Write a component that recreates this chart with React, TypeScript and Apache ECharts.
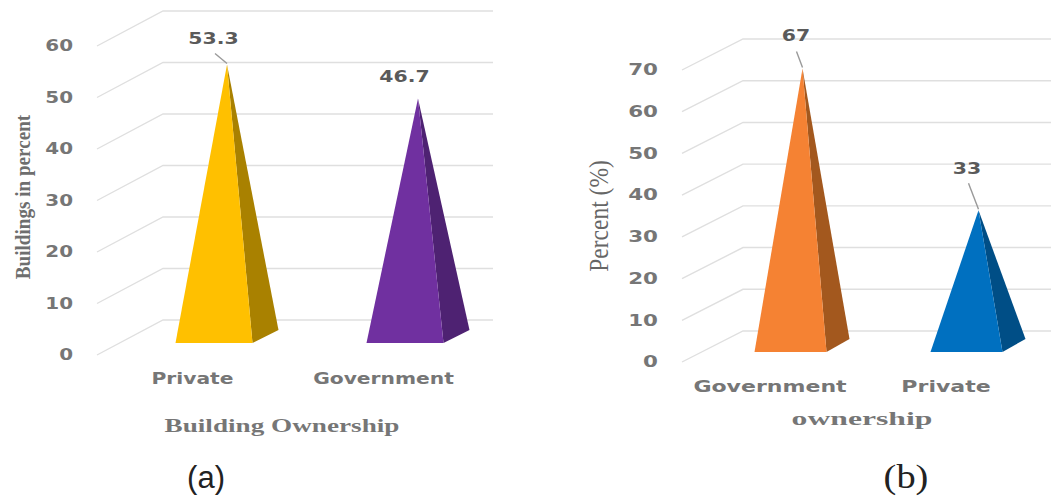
import React, { useEffect, useRef } from "react";
import * as echarts from "echarts";

const ownershipA = ["Private", "Government"];
const percentA = [53.3, 46.7];
const ticksA = [0, 10, 20, 30, 40, 50, 60];
const ownershipB = ["Government", "Private"];
const percentB = [67, 33];
const ticksB = [0, 10, 20, 30, 40, 50, 60, 70];

const SANS = "'DejaVu Sans', sans-serif";
const SERIF = "'Liberation Serif', serif";
const INK = "#767676";

// Perspective and label placement for one panel of the pseudo-3D chart.
const panelA = {
  depthX: 66, depthY: 35, rightEdge: 493, labelGap: 24, tickScale: 1.33, catScale: 1.35, catY: 379,
  bodyShift: 21.5, halfBase: 38.5, sideX: 26, sideY: 13, baseLift: 12, apexShift: 34.5, apexLift: 16,
  colors: [["#FFC000", "#A98100"], ["#7030A0", "#4E2272"]],
  valueAt: [[21, -26], [21, -22]],
  leaders: [[-12, -11], null],
};
const panelB = {
  depthX: 61, depthY: 31, rightEdge: 1051, labelGap: 24, tickScale: 1.43, catScale: 1.47, catY: 387,
  bodyShift: 20.5, halfBase: 36, sideX: 23, sideY: 13, baseLift: 10, apexShift: 32.5, apexLift: 14,
  colors: [["#F58233", "#A3581E"], ["#0070C0", "#004E86"]],
  valueAt: [[26, -33], [21, -42]],
  leaders: [[-6, -17], [-10, -27]],
};

function wallSeries(ticks: number[], panel: typeof panelA, axis: number) {
  return {
    type: "custom",
    xAxisIndex: axis,
    yAxisIndex: axis,
    silent: true,
    z: 1,
    data: ticks.map((t) => [0, t]),
    renderItem: (params: any, api: any) => {
      const value = api.value(1);
      const y = api.coord([0, value])[1];
      const left = params.coordSys.x;
      return {
        type: "group",
        children: [
          {
            type: "polyline",
            shape: {
              points: [
                [left, y],
                [left + panel.depthX, y - panel.depthY],
                [panel.rightEdge, y - panel.depthY],
              ],
            },
            style: { stroke: "#dfdfdf", lineWidth: 1.4, fill: "none" },
          },
          {
            type: "text",
            x: left - panel.labelGap,
            y,
            scaleX: panel.tickScale,
            style: {
              text: String(value),
              fill: INK,
              fontFamily: SANS,
              fontWeight: "bold",
              fontSize: 15,
              align: "right",
              verticalAlign: "middle",
            },
          },
        ],
      };
    },
  };
}

function pyramidSeries(names: string[], values: number[], panel: typeof panelA, axis: number) {
  return {
    type: "custom",
    xAxisIndex: axis,
    yAxisIndex: axis,
    silent: true,
    z: 2,
    data: values.map((v, i) => [i, v]),
    renderItem: (_params: any, api: any) => {
      const i = api.value(0);
      const v = api.value(1);
      const centre = api.coord([i, 0])[0];
      const floor = api.coord([i, 0])[1];
      const top = api.coord([i, v])[1];
      const baseY = floor - panel.baseLift;
      const l = centre + panel.bodyShift - panel.halfBase;
      const r = centre + panel.bodyShift + panel.halfBase;
      const apex = [centre + panel.apexShift, top - panel.apexLift];
      const [front, side] = panel.colors[i];
      const [labelDx, labelDy] = panel.valueAt[i];
      const leader = panel.leaders[i];
      const children: any[] = [
        {
          type: "polygon",
          shape: { points: [[r, baseY], [r + panel.sideX, baseY - panel.sideY], apex] },
          style: { fill: side },
        },
        {
          type: "polygon",
          shape: { points: [[l, baseY], [r, baseY], apex] },
          style: { fill: front },
        },
        {
          type: "text",
          x: centre + labelDx,
          y: apex[1] + labelDy,
          scaleX: 1.36,
          style: {
            text: String(v),
            fill: "#5a5a5a",
            fontFamily: SANS,
            fontWeight: "bold",
            fontSize: 15,
            align: "center",
            verticalAlign: "middle",
          },
        },
        {
          type: "text",
          x: centre,
          y: panel.catY,
          scaleX: panel.catScale,
          style: {
            text: names[i],
            fill: INK,
            fontFamily: SANS,
            fontWeight: "bold",
            fontSize: 15,
            align: "center",
            verticalAlign: "middle",
          },
        },
      ];
      if (leader) {
        children.push({
          type: "line",
          shape: { x1: apex[0] + leader[0], y1: apex[1] + leader[1], x2: apex[0], y2: apex[1] - 1 },
          style: { stroke: "#9a9a9a", lineWidth: 1.4 },
        });
      }
      return { type: "group", children };
    },
  };
}

function caption(text: string, x: number, y: number, opts: any) {
  const { rotation, scaleX, scaleY, ...style } = opts;
  return {
    type: "text",
    x,
    y,
    rotation: rotation ?? 0,
    scaleX: scaleX ?? 1,
    scaleY: scaleY ?? 1,
    style: { text, align: "center", verticalAlign: "middle", ...style },
  };
}

export default function App() {
  const host = useRef<HTMLDivElement>(null);

  useEffect(() => {
    const chart = echarts.init(host.current!, undefined, { renderer: "svg" });
    chart.setOption({
      animation: false,
      backgroundColor: "#ffffff",
      grid: [
        { left: 97, top: 46, width: 382, height: 309 },
        { left: 682, top: 70, width: 352, height: 292 },
      ],
      xAxis: [
        { type: "category", gridIndex: 0, data: ownershipA, show: false },
        { type: "category", gridIndex: 1, data: ownershipB, show: false },
      ],
      yAxis: [
        { type: "value", gridIndex: 0, min: 0, max: 60, interval: 10, show: false },
        { type: "value", gridIndex: 1, min: 0, max: 70, interval: 10, show: false },
      ],
      series: [
        wallSeries(ticksA, panelA, 0),
        wallSeries(ticksB, panelB, 1),
        pyramidSeries(ownershipA, percentA, panelA, 0),
        pyramidSeries(ownershipB, percentB, panelB, 1),
      ],
      graphic: [
        caption("Buildings in percent", 23, 197, {
          rotation: Math.PI / 2,
          fill: "#6e6e6e",
          fontFamily: SERIF,
          fontSize: 22,
          fontWeight: "bold",
          scaleX: 0.87,
        }),
        caption("Percent (%)", 599, 216, {
          rotation: Math.PI / 2,
          fill: "#666666",
          fontFamily: SERIF,
          fontSize: 28,
          scaleX: 0.84,
        }),
        caption("Building Ownership", 282, 426, {
          fill: INK,
          fontFamily: SERIF,
          fontWeight: "bold",
          fontSize: 18,
          scaleX: 1.51,
        }),
        caption("ownership", 862, 419, {
          fill: INK,
          fontFamily: SERIF,
          fontWeight: "bold",
          fontSize: 18,
          scaleX: 1.76,
        }),
        caption("(a)", 206, 477, { fill: "#222222", fontFamily: "'Liberation Sans', sans-serif", fontSize: 31 }),
        caption("(b)", 906, 477, { fill: "#222222", fontFamily: SERIF, fontSize: 34, scaleX: 1.13 }),
      ],
    });
    return () => chart.dispose();
  }, []);

  return <div ref={host} style={{ position: "absolute", left: 0, top: 0, width: 1051, height: 497 }} />;
}
